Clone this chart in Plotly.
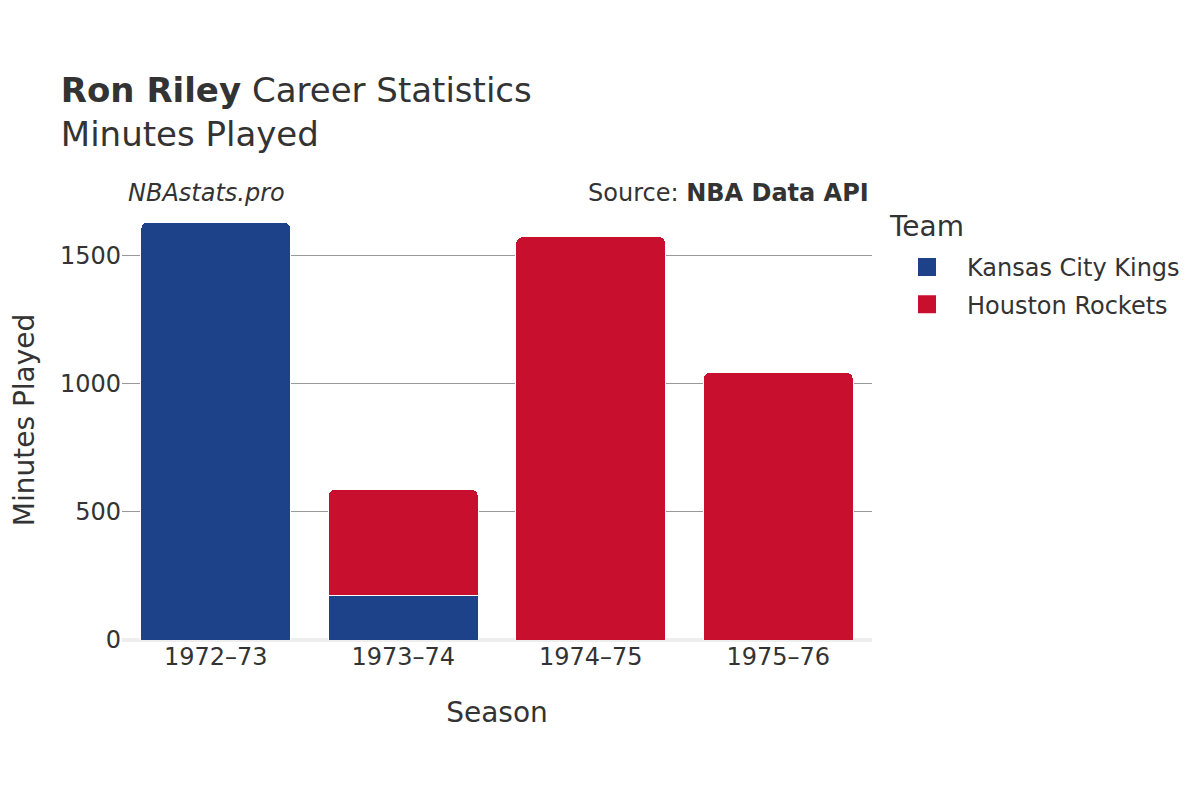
import plotly.graph_objects as go

seasons = ["1972–73", "1973–74", "1974–75", "1975–76"]
kc_minutes = [1632, 172, None, None]
hou_minutes = [None, 417, 1575, 1046]
teams = ["Kansas City Kings", "Houston Rockets"]
colors = ["#1D428A", "#C8102E"]

font_family = "DejaVu Sans"

fig = go.Figure()
fig.add_trace(go.Bar(x=seasons, y=kc_minutes, name=teams[0], marker_color=colors[0],
                     marker_line_color="white", marker_line_width=1, showlegend=False))
fig.add_trace(go.Bar(x=seasons, y=hou_minutes, name=teams[1], marker_color=colors[1],
                     marker_line_color="white", marker_line_width=1, showlegend=False))
# legend entries with larger square symbols
for team, color in zip(teams, colors):
    fig.add_trace(go.Scatter(x=[None], y=[None], mode="markers", name=team,
                             legendgroup=team,
                             marker=dict(symbol="square", size=22, color=color,
                                         line=dict(width=2, color=color)),
                             hoverinfo="skip"))

fig.update_layout(
    barmode="stack",
    barcornerradius=7,
    bargap=0.2,
    width=1200, height=800,
    paper_bgcolor="white", plot_bgcolor="white",
    font=dict(family=font_family, color="#333333", size=24),
    title=dict(
        text="<b>Ron Riley</b> Career Statistics<br>Minutes Played",
        x=0.044, xanchor="left", y=0.883, yanchor="top",
        font=dict(size=34, color="#333333"),
    ),
    margin=dict(l=114, r=336, t=192, b=168),
    legend=dict(
        font=dict(size=24),
        x=1.02, xanchor="left", y=0.8977, yanchor="top",
        traceorder="grouped",
        tracegroupgap=3,
        itemwidth=70,
    ),
    xaxis=dict(
        title=dict(text="Season", font=dict(size=28), standoff=32),
        tickfont=dict(size=24),
        showgrid=False,
        showline=False,
    ),
    yaxis=dict(
        title=dict(text="Minutes Played", font=dict(size=28), standoff=40),
        automargin=False,
        tickfont=dict(size=24),
        showgrid=True, gridcolor="#999999", gridwidth=1,
        zeroline=True, zerolinecolor="#eeeeee", zerolinewidth=4,
        tickvals=[0, 500, 1000, 1500],
    ),
    annotations=[
        dict(text="<i>NBAstats.pro</i>", x=0.0, xref="paper", xanchor="left",
             y=1.0, yref="paper", yanchor="bottom", yshift=-9, xshift=4,
             showarrow=False, font=dict(size=24, color="#333333")),
        dict(text="Source: <b>NBA Data API</b>", x=1.0, xref="paper", xanchor="right",
             y=1.0, yref="paper", yanchor="bottom", yshift=-9, xshift=-1,
             showarrow=False, font=dict(size=24, color="#333333")),
        dict(text="Team", x=1.02, xref="paper", xanchor="left", xshift=0,
             y=0.9409, yref="paper", yanchor="middle",
             showarrow=False, font=dict(size=28, color="#333333")),
    ],
)

fig.write_html("out.html")
